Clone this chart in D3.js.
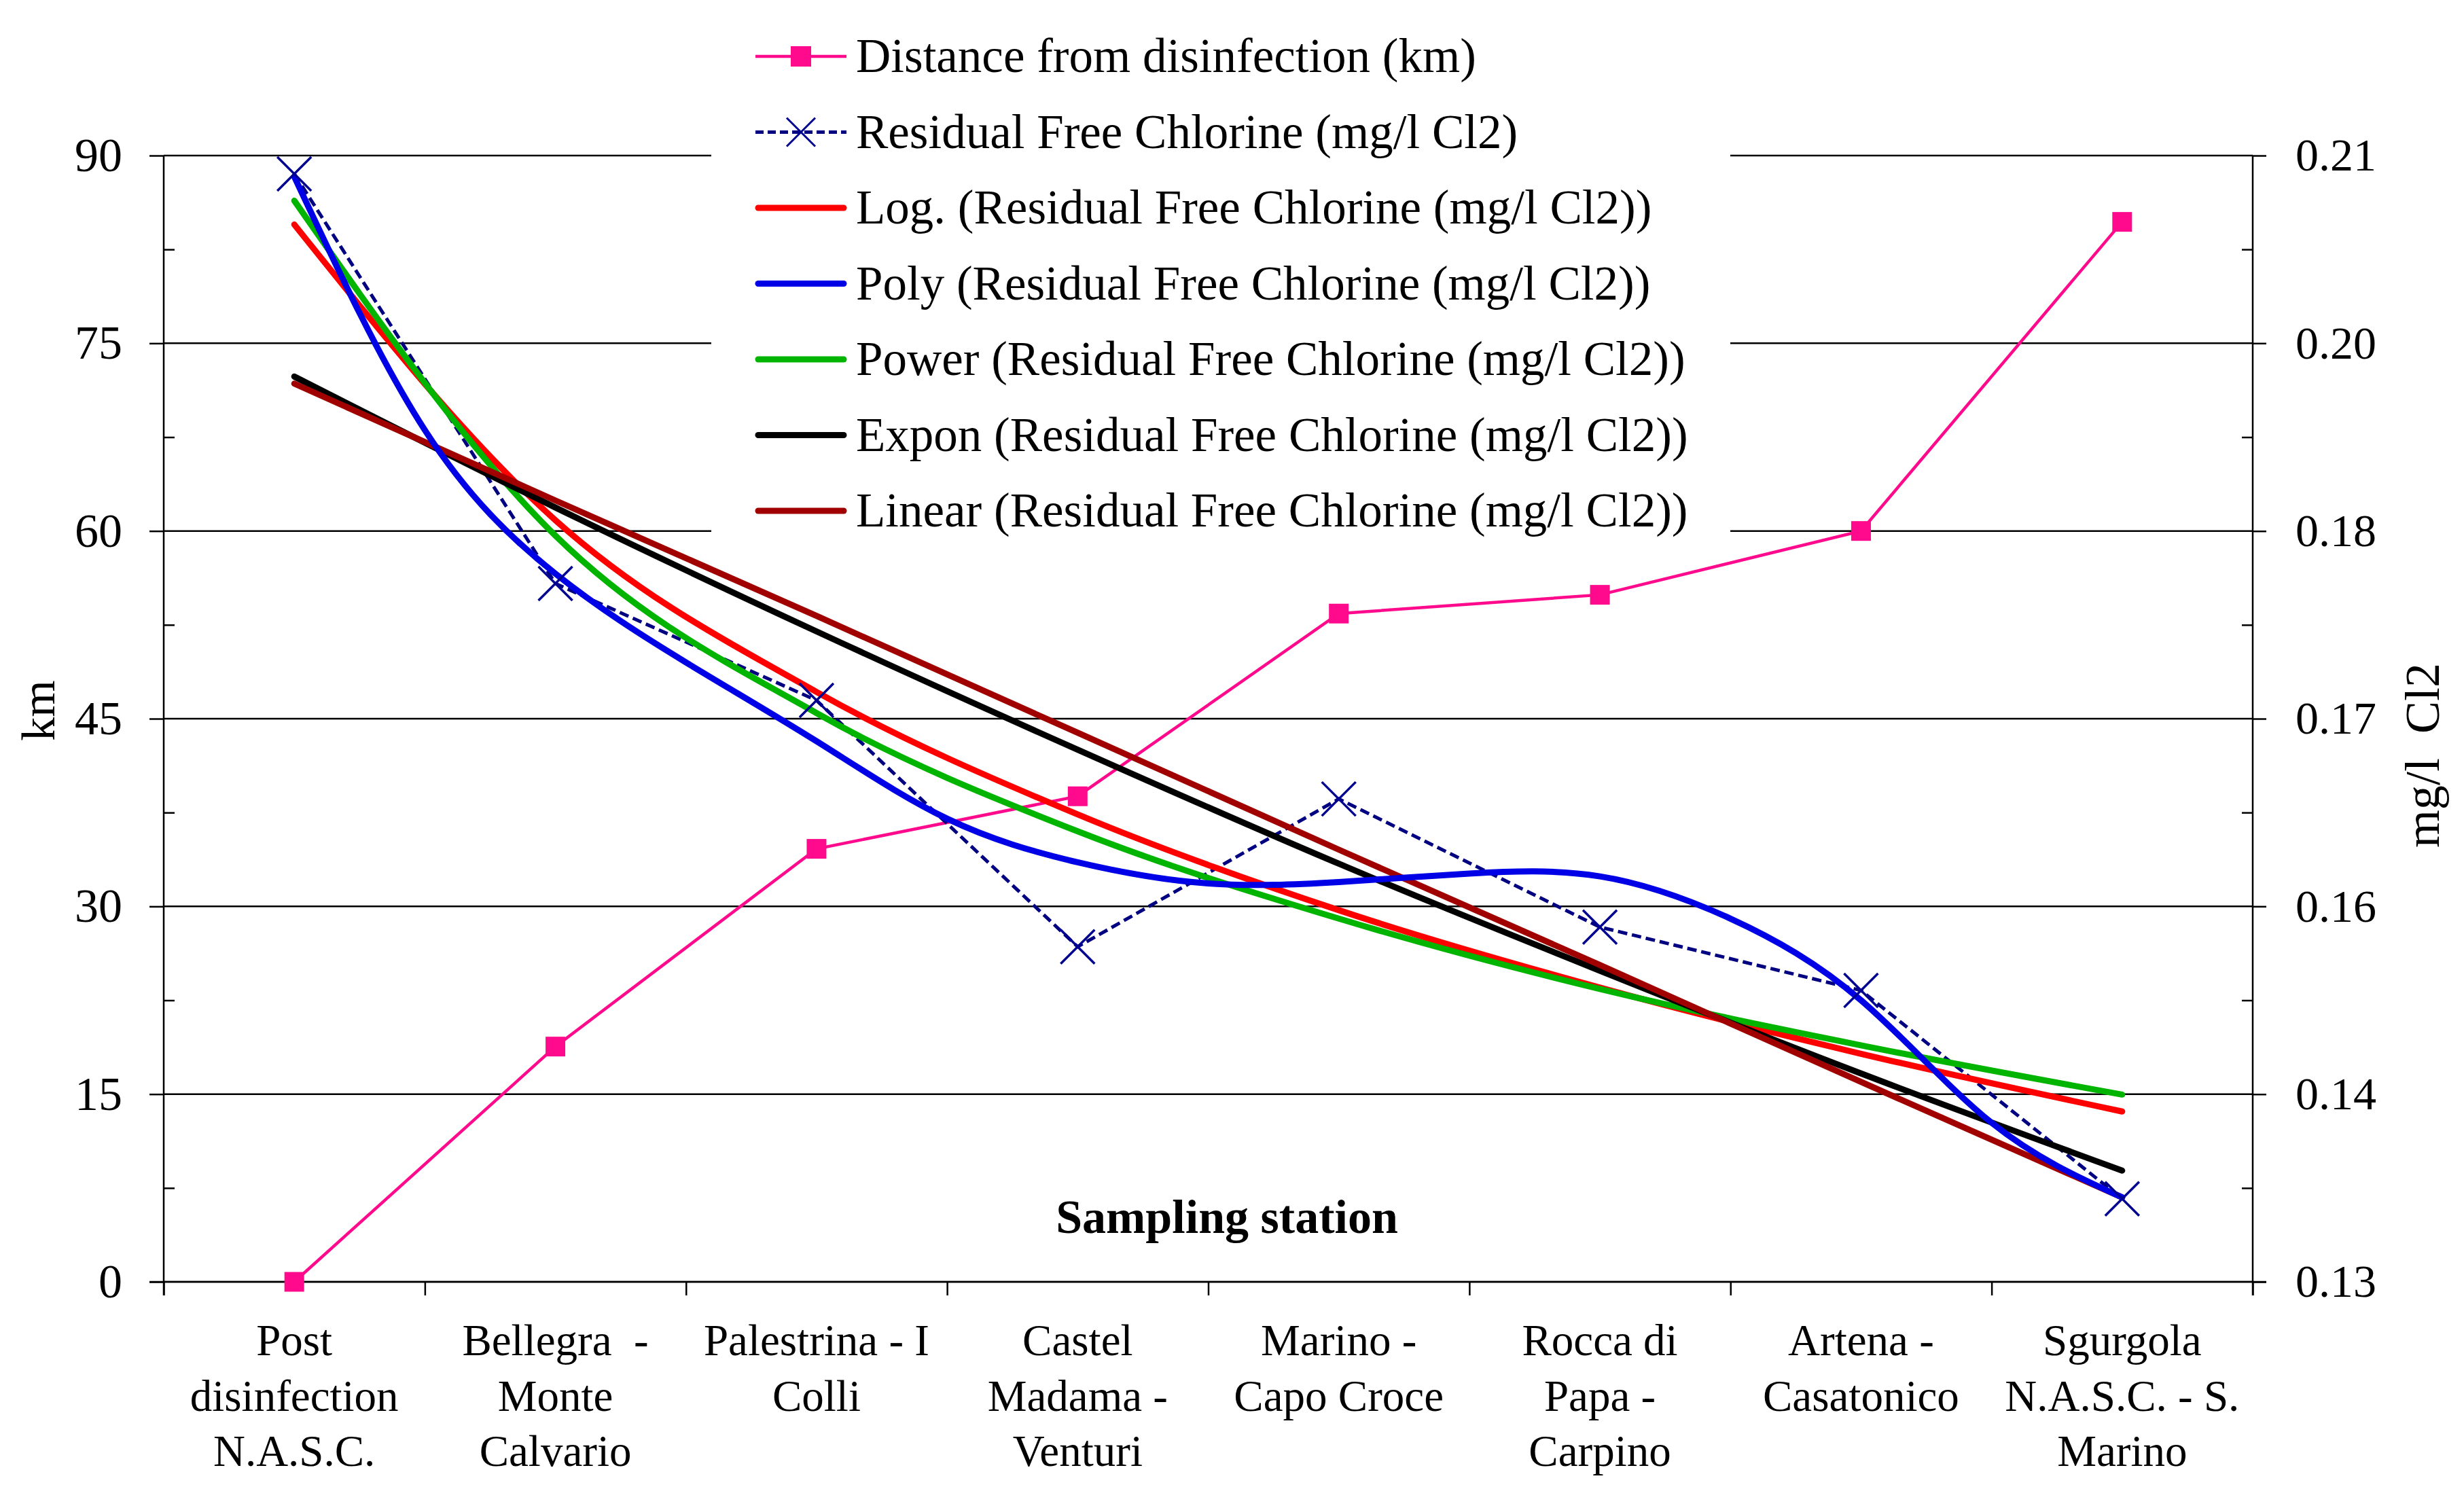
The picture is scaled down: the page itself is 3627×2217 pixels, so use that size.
<!DOCTYPE html>
<html lang="en">
<head>
<meta charset="UTF-8">
<title>Distance and residual free chlorine by sampling station</title>
<script src="https://d3js.org/d3.v7.min.js"></script>
<style>
  html, body { margin: 0; padding: 0; background: #fff; }
  svg { display: block; }
  text { font-family: "Liberation Serif", "Times New Roman", serif; fill: #000; }
</style>
</head>
<body>
<div id="chart"></div>
<script>
// station names, already split the way they wrap under the axis
const stations = [
  ["Post", "disinfection", "N.A.S.C."],
  ["Bellegra  -", "Monte", "Calvario"],
  ["Palestrina - I", "Colli"],
  ["Castel", "Madama -", "Venturi"],
  ["Marino -", "Capo Croce"],
  ["Rocca di", "Papa -", "Carpino"],
  ["Artena -", "Casatonico"],
  ["Sgurgola", "N.A.S.C. - S.", "Marino"]
];

// left axis (km)
const distanceKm = [0, 18.8, 34.6, 38.8, 53.4, 54.9, 60.0, 84.7];
// right axis (mg/l Cl2)
const freeChlorine = [0.2087, 0.1796, 0.1713, 0.1538, 0.1643, 0.1552, 0.1507, 0.1359];

// trendlines at each station
const logTrend = [0.2051, 0.1841, 0.1719, 0.1632, 0.1564, 0.1509, 0.1462, 0.1421];
const powerTrend = [0.2068, 0.1830, 0.1704, 0.1620, 0.1558, 0.1508, 0.1468, 0.1433];
const exponTrend = [0.1943, 0.1850, 0.1762, 0.1678, 0.1597, 0.1521, 0.1448, 0.1379];
const linearTrend = [0.1938, 0.1855, 0.1773, 0.1690, 0.1607, 0.1525, 0.1442, 0.1360];
// poly trendline read at every half station (1, 1.5, 2 ... 8)
const polyTrend = [0.2085, 0.1905, 0.1803, 0.1740, 0.1684, 0.1629, 0.1598, 0.1583,
                   0.1584, 0.1590, 0.1588, 0.1558, 0.1500, 0.1413, 0.1360];

const kmTicks = [0, 15, 30, 45, 60, 75, 90];
const clTicks = [0.13, 0.14333, 0.15667, 0.17, 0.18333, 0.19667, 0.21];

const legendLabels = [
  "Distance from disinfection (km)",
  "Residual Free Chlorine (mg/l Cl2)",
  "Log. (Residual Free Chlorine (mg/l Cl2))",
  "Poly (Residual Free Chlorine (mg/l Cl2))",
  "Power (Residual Free Chlorine (mg/l Cl2))",
  "Expon (Residual Free Chlorine (mg/l Cl2))",
  "Linear (Residual Free Chlorine (mg/l Cl2))"
];

const W = 3627, H = 2217;
const plotLeft = 241, plotRight = 3316, plotTop = 229, plotBottom = 1887;

const svg = d3.select('#chart').append('svg')
  .attr('width', W).attr('height', H);

const x = d3.scaleLinear().domain([0.5, 8.5]).range([plotLeft, plotRight]);
const yKm = d3.scaleLinear().domain([0, 90]).range([plotBottom, plotTop]);
const yCl = d3.scaleLinear().domain([0.13, 0.21]).range([plotBottom, plotTop]);

// gridlines
svg.append('g').selectAll('line')
  .data(kmTicks)
  .enter().append('line')
  .attr('x1', plotLeft).attr('x2', plotRight)
  .attr('y1', d => yKm(d)).attr('y2', d => yKm(d))
  .attr('stroke', '#000').attr('stroke-width', 2.5);

function styleAxis(g, size) {
  g.select('.domain').remove();
  g.selectAll('line').attr('stroke', '#000').attr('stroke-width', 2.5);
  g.selectAll('text').style('font-size', size + 'px').attr('fill', '#000');
}

// left axis
svg.append('g')
  .attr('transform', `translate(${plotLeft},0)`)
  .call(d3.axisLeft(yKm).tickValues(kmTicks).tickSize(21).tickPadding(40).tickFormat(d3.format('d')))
  .call(g => styleAxis(g, 70));
svg.append('g')
  .attr('transform', `translate(${plotLeft},0)`)
  .call(d3.axisRight(yKm).tickValues(kmTicks.slice(0, -1).map(v => v + 7.5)).tickSize(16).tickFormat(''))
  .call(g => styleAxis(g, 70));

// right axis
svg.append('g')
  .attr('transform', `translate(${plotRight},0)`)
  .call(d3.axisRight(yCl).tickValues(clTicks).tickSize(20).tickPadding(43).tickFormat(d3.format('.2f')))
  .call(g => styleAxis(g, 68));
svg.append('g')
  .attr('transform', `translate(${plotRight},0)`)
  .call(d3.axisLeft(yCl).tickValues(clTicks.slice(0, -1).map((v, i) => (v + clTicks[i + 1]) / 2)).tickSize(16).tickFormat(''))
  .call(g => styleAxis(g, 68));

// x axis ticks between categories
svg.append('g')
  .attr('transform', `translate(0,${plotBottom})`)
  .call(d3.axisBottom(x).tickValues(d3.range(0.5, 9, 1)).tickSize(20).tickFormat(''))
  .call(g => styleAxis(g, 65));

// axis lines
svg.append('line').attr('x1', plotLeft).attr('x2', plotLeft).attr('y1', plotTop).attr('y2', plotBottom + 20)
  .attr('stroke', '#000').attr('stroke-width', 2.5);
svg.append('line').attr('x1', plotRight).attr('x2', plotRight).attr('y1', plotTop).attr('y2', plotBottom + 20)
  .attr('stroke', '#000').attr('stroke-width', 2.5);
svg.append('line').attr('x1', plotLeft - 21).attr('x2', plotRight + 20).attr('y1', plotBottom).attr('y2', plotBottom)
  .attr('stroke', '#000').attr('stroke-width', 2.5);

// category labels
const catLabels = svg.append('g').selectAll('text')
  .data(stations)
  .enter().append('text')
  .attr('text-anchor', 'middle')
  .style('font-size', '65px')
  .style('white-space', 'pre');
catLabels.selectAll('tspan')
  .data((d, i) => d.map(t => ({ t, i })))
  .enter().append('tspan')
  .attr('x', d => x(d.i + 1))
  .attr('y', (d, j) => 1995 + j * 81.5)
  .text(d => d.t);

// axis titles
svg.append('text')
  .attr('transform', 'translate(80,1046) rotate(-90)')
  .attr('text-anchor', 'middle')
  .style('font-size', '70px')
  .text('km');
svg.append('text')
  .attr('transform', 'translate(3590,1112) rotate(-90)')
  .attr('text-anchor', 'middle')
  .style('font-size', '72px')
  .style('white-space', 'pre')
  .text('mg/l  Cl2');
svg.append('text')
  .attr('x', 1806).attr('y', 1815)
  .attr('text-anchor', 'middle')
  .style('font-size', '70px')
  .style('font-weight', 'bold')
  .text('Sampling station');

const idx = d3.range(1, 9);

// distance series
const kmLine = d3.line().x(i => x(i)).y(i => yKm(distanceKm[i - 1]));
svg.append('path')
  .attr('d', kmLine(idx))
  .attr('fill', 'none').attr('stroke', '#FF0A8C').attr('stroke-width', 4.5);
svg.append('g').selectAll('rect')
  .data(idx)
  .enter().append('rect')
  .attr('x', i => x(i) - 14.5).attr('y', i => yKm(distanceKm[i - 1]) - 14.5)
  .attr('width', 29).attr('height', 29)
  .attr('fill', '#FF0A8C');

// chlorine series
const clLine = d3.line().x(i => x(i)).y(i => yCl(freeChlorine[i - 1]));
svg.append('path')
  .attr('d', clLine(idx))
  .attr('fill', 'none').attr('stroke', '#000080').attr('stroke-width', 5)
  .attr('stroke-dasharray', '14,7');

// trendlines
const trends = [
  { vals: logTrend, color: '#FF0000', curve: d3.curveMonotoneX },
  { vals: powerTrend, color: '#00B400', curve: d3.curveMonotoneX },
  { vals: exponTrend, color: '#000000', curve: d3.curveMonotoneX },
  { vals: linearTrend, color: '#A00000', curve: d3.curveLinear }
];
trends.forEach(t => {
  const ln = d3.line().curve(t.curve).x(i => x(i)).y(i => yCl(t.vals[i - 1]));
  svg.append('path')
    .attr('d', ln(idx))
    .attr('fill', 'none').attr('stroke', t.color).attr('stroke-width', 9)
    .attr('stroke-linecap', 'round');
});
const polyLine = d3.line().curve(d3.curveNatural)
  .x((v, k) => x(1 + k / 2)).y(v => yCl(v));
svg.append('path')
  .attr('d', polyLine(polyTrend))
  .attr('fill', 'none').attr('stroke', '#0000E6').attr('stroke-width', 9)
  .attr('stroke-linecap', 'round');

// chlorine markers (x)
function cross(g, cx, cy, r, w) {
  g.append('path')
    .attr('d', `M${cx - r},${cy - r}L${cx + r},${cy + r}M${cx - r},${cy + r}L${cx + r},${cy - r}`)
    .attr('stroke', '#000090').attr('stroke-width', w).attr('fill', 'none');
}
const marks = svg.append('g');
idx.forEach(i => cross(marks, x(i), yCl(freeChlorine[i - 1]), 25, 3.5));

// legend
const leg = svg.append('g');
leg.append('rect').attr('x', 1047).attr('y', 15).attr('width', 1500).attr('height', 800).attr('fill', '#fff');
const legColors = ['#FF0A8C', '#000080', '#FF0000', '#0000E6', '#00B400', '#000000', '#A00000'];
legendLabels.forEach((lab, k) => {
  const cy = 83 + k * 111.5;
  const row = leg.append('g');
  if (k === 0) {
    row.append('line').attr('x1', 1112).attr('x2', 1246).attr('y1', cy).attr('y2', cy)
      .attr('stroke', legColors[k]).attr('stroke-width', 4.5);
    row.append('rect').attr('x', 1179 - 15).attr('y', cy - 15).attr('width', 30).attr('height', 30)
      .attr('fill', legColors[k]);
  } else if (k === 1) {
    row.append('line').attr('x1', 1112).attr('x2', 1246).attr('y1', cy).attr('y2', cy)
      .attr('stroke', legColors[k]).attr('stroke-width', 5).attr('stroke-dasharray', '12,6');
    cross(row, 1179, cy, 21, 3);
  } else {
    row.append('line').attr('x1', 1116).attr('x2', 1242).attr('y1', cy).attr('y2', cy)
      .attr('stroke', legColors[k]).attr('stroke-width', 9).attr('stroke-linecap', 'round');
  }
  row.append('text')
    .attr('x', 1260).attr('y', cy).attr('dy', '0.33em')
    .style('font-size', '71px')
    .text(lab);
});
</script>
</body>
</html>
